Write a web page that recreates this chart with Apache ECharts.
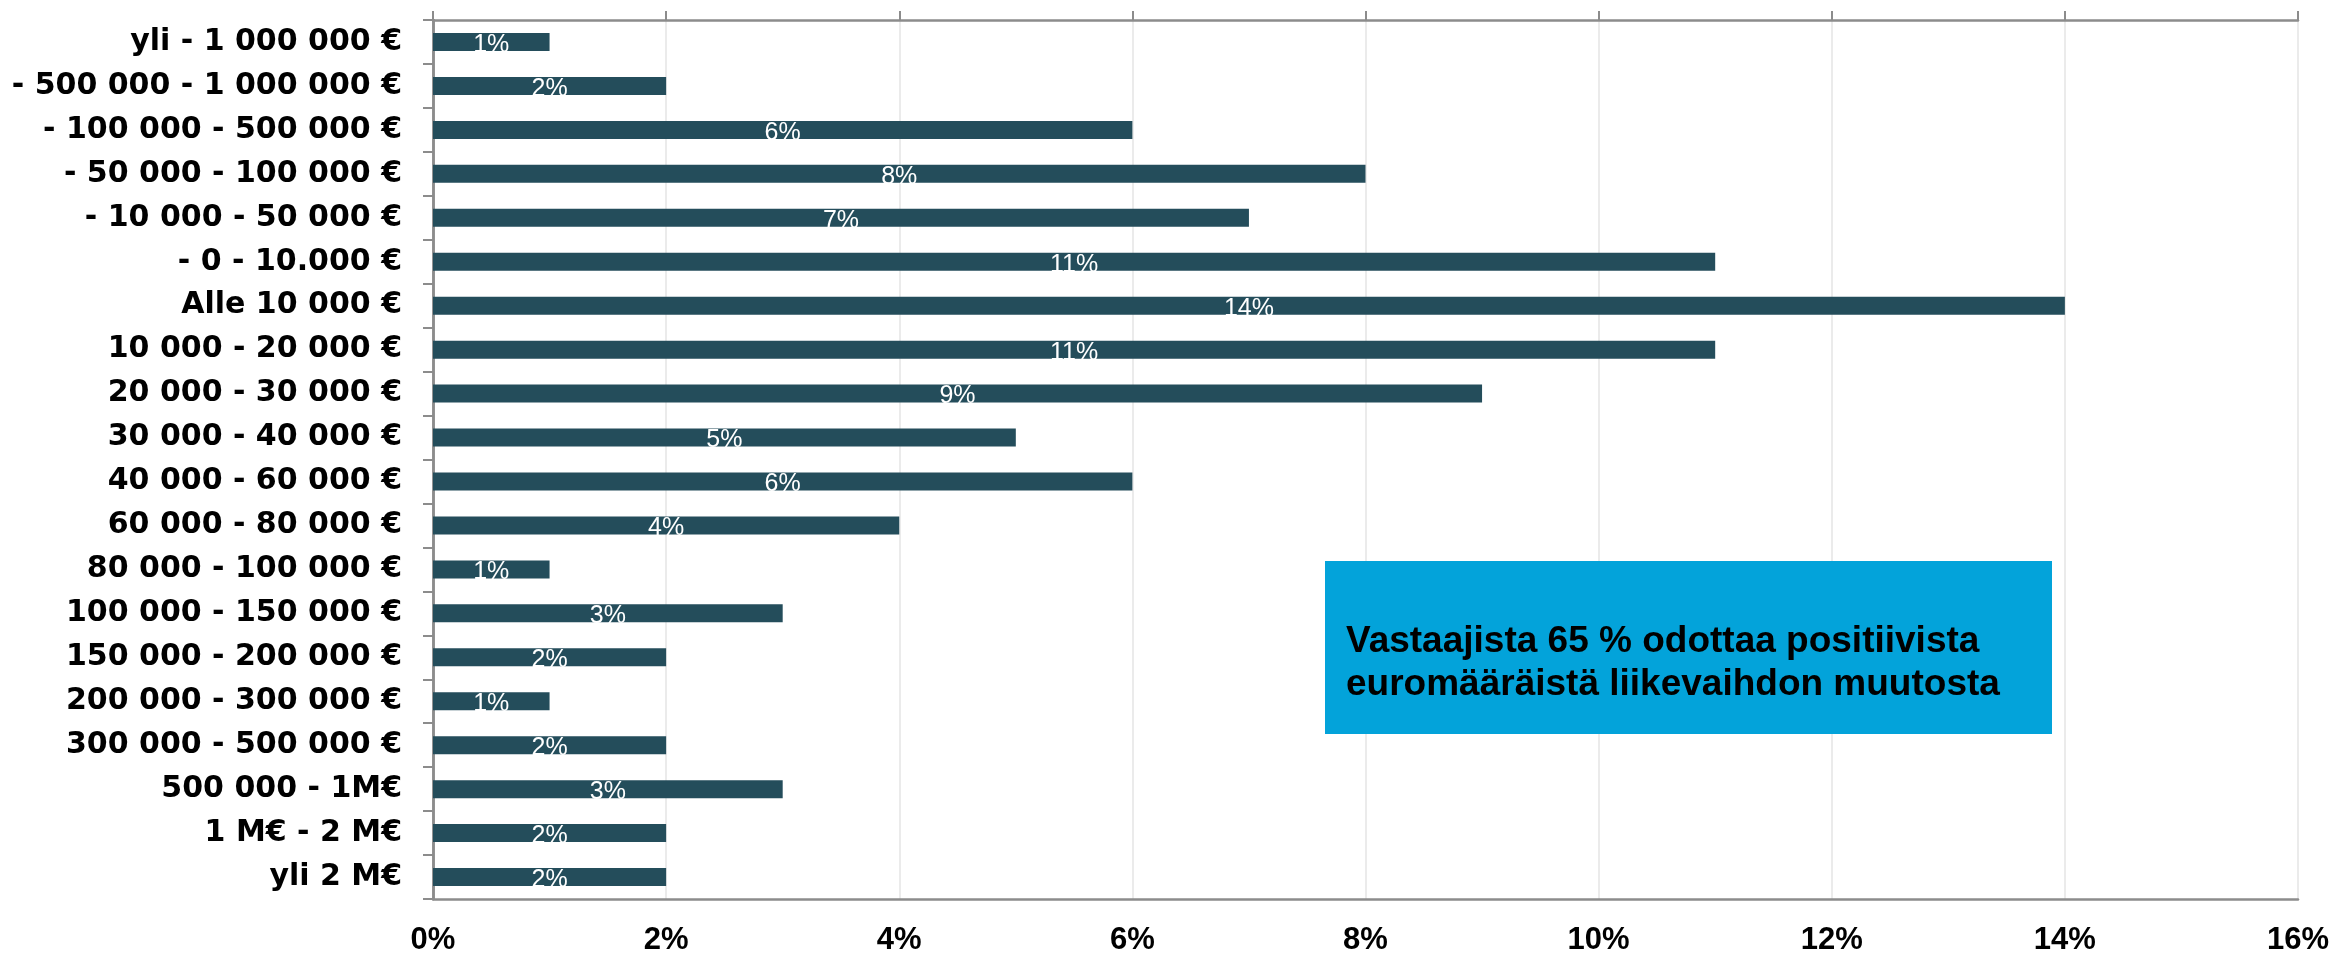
<!DOCTYPE html>
<html style="height: 100%">
   <head>
       <meta charset="utf-8">
   </head>
   <body style="height: 100%; margin: 0; background: #fff">
       <div id="container" style="width: 2335px; height: 953px"></div>
       <script src="https://cdn.jsdelivr.net/npm/echarts@6/dist/echarts.min.js"></script>
       <script type="text/javascript">
// luokat ylhäältä alas
var categories = [
    'yli - 1 000 000 €',
    '- 500 000 - 1 000 000 €',
    '- 100 000 - 500 000 €',
    '- 50 000 - 100 000 €',
    '- 10 000 - 50 000 €',
    '- 0 - 10.000 €',
    'Alle 10 000 €',
    '10 000 - 20 000 €',
    '20 000 - 30 000 €',
    '30 000 - 40 000 €',
    '40 000 - 60 000 €',
    '60 000 - 80 000 €',
    '80 000 - 100 000 €',
    '100 000 - 150 000 €',
    '150 000 - 200 000 €',
    '200 000 - 300 000 €',
    '300 000 - 500 000 €',
    '500 000 - 1M€',
    '1 M€ - 2 M€',
    'yli 2 M€'
];
var values = [1, 2, 6, 8, 7, 11, 14, 11, 9, 5, 6, 4, 1, 3, 2, 1, 2, 3, 2, 2];
var xTicks = { min: 0, max: 16, interval: 2 };
var noteText = 'Vastaajista 65 % odottaa positiivista\neuromääräistä liikevaihdon muutosta';

var dom = document.getElementById("container");
var myChart = echarts.init(dom);
var option = null;

var axisGray = '#8c8c8c';

option = {
    animation: false,
    grid: { left: 433, right: 37, top: 20, bottom: 54, outerBoundsMode: 'none' },
    xAxis: [
        {
            type: 'value',
            position: 'bottom',
            min: xTicks.min,
            max: xTicks.max,
            interval: xTicks.interval,
            axisLine: { show: true, lineStyle: { color: axisGray, width: 2.5 } },
            axisTick: { show: false },
            axisLabel: {
                margin: 26,
                color: '#000',
                fontFamily: 'Liberation Sans, Arial, sans-serif',
                fontWeight: 'bold',
                fontSize: 31,
                formatter: '{value}%'
            },
            splitLine: { show: true, lineStyle: { color: '#e4e4e4', width: 1.5 } }
        },
        {
            type: 'value',
            position: 'top',
            min: xTicks.min,
            max: xTicks.max,
            interval: xTicks.interval,
            axisLine: { show: true, lineStyle: { color: axisGray, width: 2.5 } },
            axisTick: { show: true, length: 9, lineStyle: { color: axisGray, width: 2 } },
            axisLabel: { show: false },
            splitLine: { show: false }
        }
    ],
    yAxis: [
        {
            type: 'category',
            inverse: true,
            data: categories,
            axisLine: { show: true, lineStyle: { color: axisGray, width: 2.5 } },
            axisTick: { show: true, length: 10, lineStyle: { color: axisGray, width: 2 } },
            axisLabel: {
                interval: 0,
                margin: 31,
                color: '#000',
                fontFamily: 'DejaVu Sans, sans-serif',
                fontWeight: 'bold',
                fontSize: 30
            }
        },
        {
            type: 'category',
            position: 'right',
            inverse: true,
            data: categories,
            axisLine: { show: true, lineStyle: { color: axisGray, width: 2.5 } },
            axisTick: { show: false },
            axisLabel: { show: false }
        }
    ],
    series: [
        {
            type: 'bar',
            data: values,
            barWidth: 18,
            itemStyle: { color: '#244d5b' },
            label: {
                show: true,
                position: 'inside',
                offset: [0, 3],
                color: '#fff',
                fontFamily: 'Liberation Sans, Arial, sans-serif',
                fontSize: 25,
                formatter: '{c}%'
            }
        }
    ],
    graphic: [
        {
            type: 'rect',
            z: 100,
            left: 1325,
            top: 561,
            shape: { width: 727, height: 173 },
            style: { fill: '#03a3da' }
        },
        {
            type: 'text',
            z: 101,
            left: 1346,
            top: 620,
            style: {
                text: noteText,
                fill: '#000',
                font: 'bold 37px "Liberation Sans", Arial, sans-serif',
                lineHeight: 43
            }
        }
    ]
};

if (option && typeof option === "object") {
    myChart.setOption(option, true);
}
       </script>
   </body>
</html>
